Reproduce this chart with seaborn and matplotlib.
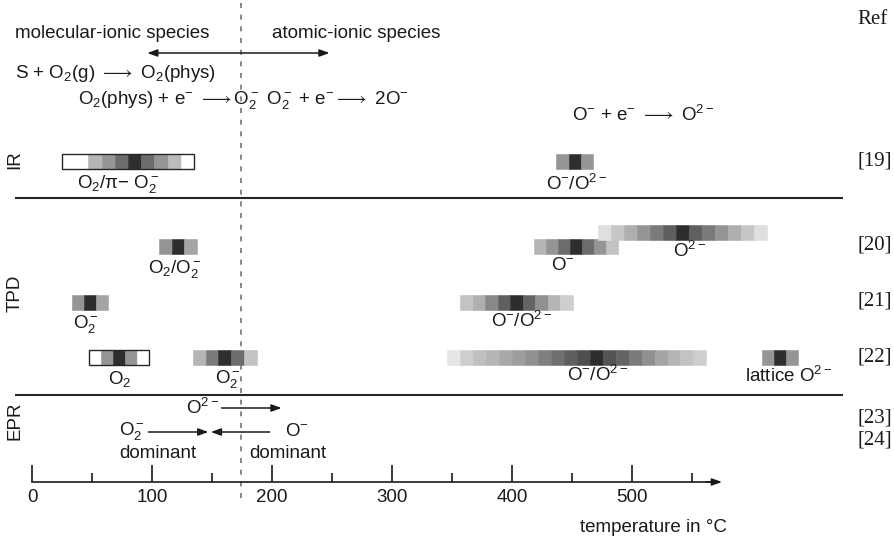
import matplotlib
matplotlib.use('Agg')
import matplotlib.pyplot as plt
import seaborn as sns

# temperature axis
major_ticks = [0, 100, 200, 300, 400, 500]
minor_ticks = [50, 150, 250, 350, 450, 550]
boundary_T = 174  # molecular / atomic border

# bands: start temperature, cell width (degC), grey intensity of each cell
ir_o2_start, ir_o2_step = 25, 11
ir_o2_cells = [0, 0, .4, .5, .65, .85, .65, .5, .38, 0]
ir_o_start, ir_o_step = 437, 10.3
ir_o_cells = [.5, .85, .5]

tpd20_o2_start, tpd20_o2_step = 106, 10.5
tpd20_o2_cells = [.5, .85, .45]
tpd20_o_start, tpd20_o_step = 418, 10
tpd20_o_cells = [.4, .5, .65, .85, .65, .5, .35]
tpd20_o2m_start, tpd20_o2m_step = 472, 10.8
tpd20_o2m_cells = [.22, .33, .42, .5, .6, .7, .85, .7, .6, .5, .42, .33, .22]

tpd21_o2_start, tpd21_o2_step = 33, 10
tpd21_o2_cells = [.5, .85, .45]
tpd21_o_start, tpd21_o_step = 357, 10.4
tpd21_o_cells = [.35, .42, .55, .7, .85, .68, .52, .4, .3]

tpd22_o2_start, tpd22_o2_step = 47.5, 10
tpd22_o2_cells = [0, .5, .85, .5, 0]
tpd22_o2m_start, tpd22_o2m_step = 134, 10.7
tpd22_o2m_cells = [.4, .6, .85, .65, .35]
tpd22_o_start, tpd22_o_step = 346, 10.8
tpd22_o_cells = [.18, .3, .36, .4, .44, .48, .52, .58, .64, .7, .76, .85,
                 .74, .68, .6, .52, .45, .4, .35, .3]
tpd22_lat_start, tpd22_lat_step = 608, 10
tpd22_lat_cells = [.5, .85, .5]

refs = ['Ref', '[19]', '[20]', '[21]', '[22]', '[23]', '[24]']
ref_y = [20, 161, 245, 301, 357, 418, 440]

sns.set_theme(style="white")
plt.rcParams['font.family'] = ['Liberation Sans', 'DejaVu Sans']
plt.rcParams.update({'mathtext.fontset': 'custom',
                     'mathtext.rm': 'Liberation Sans',
                     'mathtext.it': 'Liberation Sans:italic',
                     'mathtext.bf': 'Liberation Sans:bold',
                     'mathtext.fallback': 'stixsans'})
greys = sns.color_palette("Greys", as_cmap=True)

fig = plt.figure(figsize=(8.95, 5.41), dpi=100)
ax = fig.add_axes([0, 0, 1, 1])
ax.set_xlim(-26.67, 719.17)
ax.set_ylim(541, 0)


def band(y, start, step, cells, outline=False, h=15):
    lefts = [start + i * step for i in range(len(cells))]
    cols = [greys(c) for c in cells]
    ax.bar(lefts, h, width=step, bottom=y - h / 2, align='edge',
           color=cols, edgecolor=cols, linewidth=0.4, zorder=2)
    if outline:
        ax.bar(start, h, width=step * len(cells), bottom=y - h / 2,
               align='edge', fill=False, edgecolor='0.15', linewidth=1,
               zorder=3)


fs = 13.5
def lab(x, y, s, ha='center', size=fs, **kw):
    ax.text(x, y, s, ha=ha, va='center', fontsize=size, color='0.1', **kw)


def arrow(x0, x1, y, style='-|>'):
    ax.annotate('', xy=(x1, y), xytext=(x0, y),
                arrowprops=dict(arrowstyle=style + ',head_length=0.5,head_width=0.18',
                                color='0.1', lw=1.1, shrinkA=0, shrinkB=0))


AR = r'$\longrightarrow$'

# IR
band(161, ir_o2_start, ir_o2_step, ir_o2_cells, outline=True)
band(161, ir_o_start, ir_o_step, ir_o_cells)
lab(71.7, 184, 'O$_2$/π− O$_2^-$')
lab(454, 184, 'O$^{-}$/O$^{2-}$')

# TPD
band(246.5, tpd20_o2_start, tpd20_o2_step, tpd20_o2_cells)
band(246.5, tpd20_o_start, tpd20_o_step, tpd20_o_cells)
band(232, tpd20_o2m_start, tpd20_o2m_step, tpd20_o2m_cells)
lab(119, 269, 'O$_2$/O$_2^-$')
lab(442.5, 266, 'O$^{-}$')
lab(548, 251, 'O$^{2-}$')

band(302.5, tpd21_o2_start, tpd21_o2_step, tpd21_o2_cells)
band(302.5, tpd21_o_start, tpd21_o_step, tpd21_o_cells)
lab(45, 324, 'O$_2^-$')
lab(408, 321, 'O$^{-}$/O$^{2-}$')

band(357.5, tpd22_o2_start, tpd22_o2_step, tpd22_o2_cells, outline=True)
band(357.5, tpd22_o2m_start, tpd22_o2m_step, tpd22_o2m_cells)
band(357.5, tpd22_o_start, tpd22_o_step, tpd22_o_cells)
band(357.5, tpd22_lat_start, tpd22_lat_step, tpd22_lat_cells)
lab(73, 379, 'O$_2$')
lab(163, 379, 'O$_2^-$')
lab(471, 375, 'O$^{-}$/O$^{2-}$')
lab(631, 376, 'lattice O$^{2-}$')

# EPR
lab(155.8, 408, 'O$^{2-}$', ha='right')
arrow(158, 208, 408)
lab(72.5, 431, 'O$_2^-$', ha='left')
arrow(97, 147, 432)
arrow(198, 149, 432)
lab(211, 431, 'O$^{-}$', ha='left')
lab(105, 454, 'dominant')
lab(213.3, 454, 'dominant')

# section separators and side labels
ax.hlines([198, 395], -14, 676, color='0.15', lw=1.5)
for name, y in [('IR', 160), ('TPD', 293), ('EPR', 421)]:
    lab(-14.2, y, name, rotation=90)
ax.vlines(boundary_T, 3, 500, color='0.45', lw=1.2, linestyles=(0, (3, 4)))

# top annotations
lab(-14.2, 33, 'molecular-ionic species', ha='left')
lab(200, 33, 'atomic-ionic species', ha='left')
arrow(96, 248, 53, style='<|-|>')
lab(-14.2, 74, 'S + O$_2$(g) ' + AR + ' O$_2$(phys)', ha='left')
lab(38.3, 100, 'O$_2$(phys) + e$^{-}$ ' + AR + 'O$_2^-$ O$_2^-$ + e$^{-}$' + AR + ' 2O$^{-}$', ha='left')
lab(450, 115, 'O$^{-}$ + e$^{-}$ ' + AR + ' O$^{2-}$', ha='left')

for r, y in zip(refs, ref_y):
    ax.text(688, y, r, ha='left', va='center', fontsize=15,
            family='Liberation Serif', color='0.1')

# temperature axis
for s in ['top', 'left', 'right']:
    ax.spines[s].set_visible(False)
ax.spines['bottom'].set_position(('data', 482))
ax.spines['bottom'].set_bounds(0, 572)
ax.spines['bottom'].set_linewidth(1.2)
ax.spines['bottom'].set_color('0.1')
ax.set_xticks(major_ticks)
ax.set_xticklabels([str(t) for t in major_ticks])
ax.set_xticks(minor_ticks, minor=True)
ax.tick_params(axis='x', which='major', direction='in', length=12, width=1.2,
               labelsize=fs, pad=5, bottom=True, color='0.1', labelcolor='0.1')
ax.tick_params(axis='x', which='minor', direction='in', length=6.5, width=1.2,
               bottom=True, color='0.1')
ax.set_yticks([])
arrow(562, 575, 482)
lab(456.7, 528, 'temperature in °C', ha='left')

fig.savefig('out.png', dpi=100)
